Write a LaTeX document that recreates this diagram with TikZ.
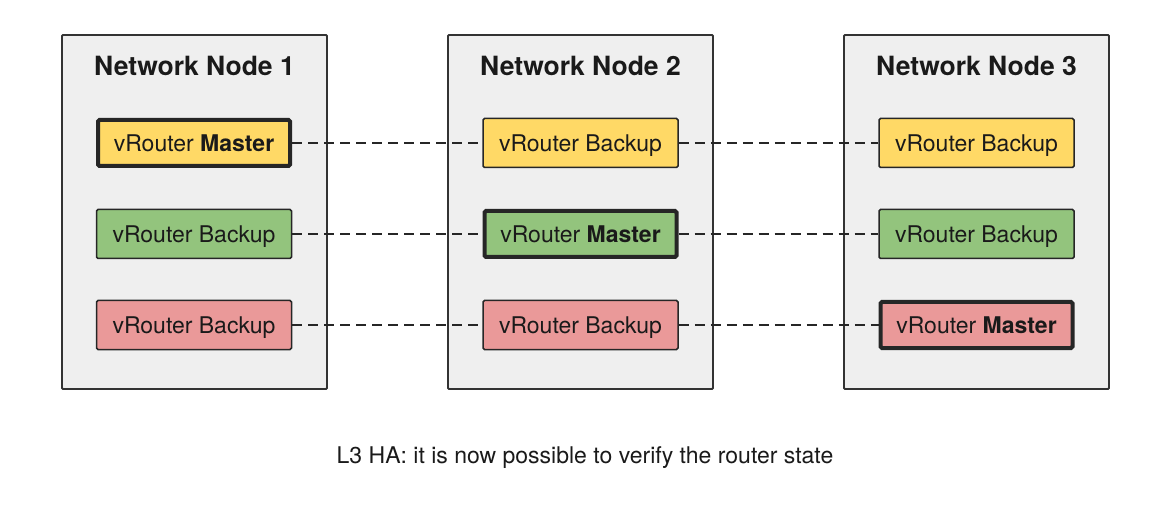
\documentclass[tikz,border=0pt]{standalone}
\usepackage{fontspec}
\setmainfont{TeX Gyre Heros}
\definecolor{panelfill}{HTML}{EFEFEF}
\definecolor{panelline}{HTML}{333333}
\definecolor{ylw}{HTML}{FFD966}
\definecolor{grn}{HTML}{93C47D}
\definecolor{rd}{HTML}{EA9999}
\definecolor{txt}{HTML}{1A1A1A}
\begin{document}
\begin{tikzpicture}[x=1pt,y=1pt,
  panel/.style={draw=panelline,fill=panelfill,line width=1.8pt,minimum width=265pt,minimum height=354pt,inner sep=0pt,rounded corners=1pt},
  ptitle/.style={font=\fontsize{26.5}{30}\selectfont\bfseries,text=txt,text height=19pt,text depth=0pt,inner sep=0pt},
  rbox/.style={draw=black!85,line width=1.5pt,minimum width=195pt,minimum height=49pt,inner sep=0pt,rounded corners=1.5pt,font=\fontsize{23}{27}\selectfont,text=txt,text height=16.5pt,text depth=0pt},
  master/.style={rbox,line width=4pt,minimum width=192pt,minimum height=46pt},
  link/.style={draw=black!85,line width=2.6pt,dash pattern=on 10pt off 6pt}]
\useasboundingbox (0,0) rectangle (1170,512);
\fill[white] (0,0) rectangle (1170,512);
% panels
\node[panel] (p1) at (194.5,300) {};
\node[panel] (p2) at (580.5,300) {};
\node[panel] (p3) at (976.5,300) {};
\node[ptitle] (t1) at (194.5,446) {Network Node 1};
\node[ptitle] (t2) at (580.5,446) {Network Node 2};
\node[ptitle] (t3) at (976.5,446) {Network Node 3};
% node 1
\node[master,fill=ylw] (a1) at (194,369) {vRouter \textbf{Master}};
\node[rbox,fill=grn] (b1) at (194,278) {vRouter Backup};
\node[rbox,fill=rd] (c1) at (194,187) {vRouter Backup};
% node 2
\node[rbox,fill=ylw] (a2) at (580.5,369) {vRouter Backup};
\node[master,fill=grn] (b2) at (580.5,278) {vRouter \textbf{Master}};
\node[rbox,fill=rd] (c2) at (580.5,187) {vRouter Backup};
% node 3
\node[rbox,fill=ylw] (a3) at (976.5,369) {vRouter Backup};
\node[rbox,fill=grn] (b3) at (976.5,278) {vRouter Backup};
\node[master,fill=rd] (c3) at (976.5,187) {vRouter \textbf{Master}};
% links
\draw[link] (a1.east) -- (a2.west);
\draw[link] (a2.east) -- (a3.west);
\draw[link] (b1.east) -- (b2.west);
\draw[link] (b2.east) -- (b3.west);
\draw[link] (c1.east) -- (c2.west);
\draw[link] (c2.east) -- (c3.west);
% caption
\node[font=\fontsize{23}{27}\selectfont,text=txt,text height=16.5pt,text depth=0pt] (cap) at (585,57) {L3 HA: it is now possible to verify the router state};
\end{tikzpicture}
\end{document}
